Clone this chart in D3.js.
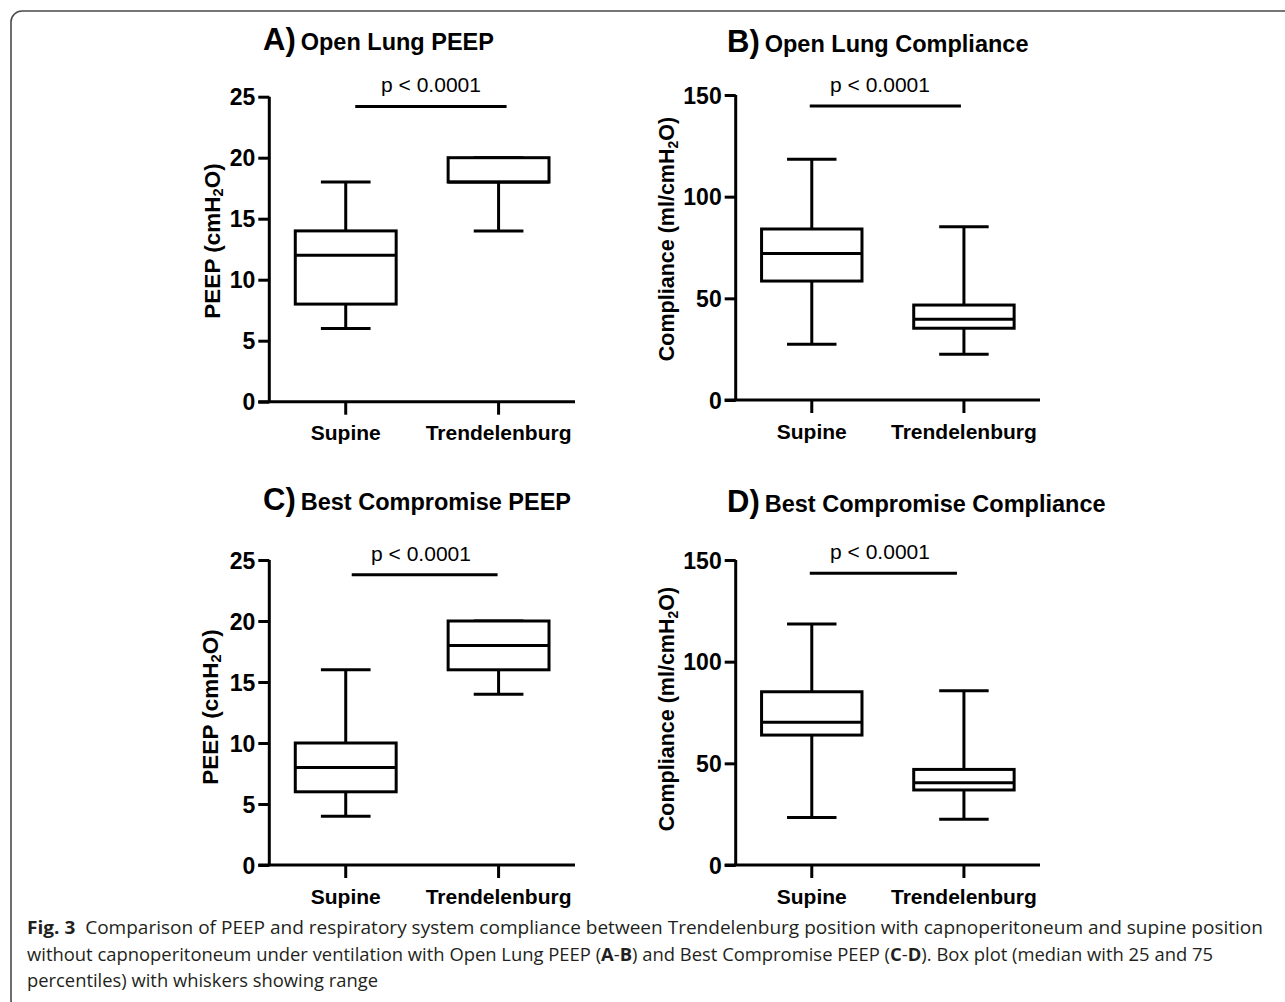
<!DOCTYPE html>
<html>
<head>
<meta charset="utf-8">
<script src="https://cdn.jsdelivr.net/npm/d3@7"></script>
<style>
  html, body { margin: 0; padding: 0; background: #fff; }
  svg { display: block; }
</style>
</head>
<body>
<svg id="chart" width="1285" height="1002"></svg>
<script>
// ---------- DATA ----------
const categories = ["Supine", "Trendelenburg"];

// box stats: [min, q1, median, q3, max] per category
const openLungPEEP        = [[6, 8, 12, 14, 18], [14, 18, 18, 20, 20]];
const openLungCompliance  = [[27.4, 58.5, 72.1, 84.1, 118.4], [22.5, 35.3, 39.7, 46.7, 85.2]];
const bestCompPEEP        = [[4, 6, 8, 10, 16], [14, 16, 18, 20, 20]];
const bestCompCompliance  = [[23.3, 63.9, 70.2, 85.2, 118.5], [22.5, 36.9, 40.5, 47, 85.7]];

const peepTicks = [0, 5, 10, 15, 20, 25];
const complianceTicks = [0, 50, 100, 150];

const panelLetters = ["A)", "B)", "C)", "D)"];
const panelTitles = ["Open Lung PEEP", "Open Lung Compliance", "Best Compromise PEEP", "Best Compromise Compliance"];
const pLabels = ["p < 0.0001", "p < 0.0001", "p < 0.0001", "p < 0.0001"];
const sigLevels = [24.2, 144.6, 23.8, 143.5];

const captionLines = [
  [["Fig. 3", true], ["  Comparison of PEEP and respiratory system compliance between Trendelenburg position with capnoperitoneum and supine position", false]],
  [["without capnoperitoneum under ventilation with Open Lung PEEP (", false], ["A", true], ["-", false], ["B", true], [") and Best Compromise PEEP (", false], ["C", true], ["-", false], ["D", true], ["). Box plot (median with 25 and 75", false]],
  [["percentiles) with whiskers showing range", false]]
];

// ---------- LAYOUT ----------
const panels = [
  { data: openLungPEEP, ticks: peepTicks, max: 25, yLabel: "peep",
    x0: 269.3, x1: 575, yTop: 96.7, yBot: 401.7, titleX: 263, titleY: 50,
    labX: 212, labY: 241, sigDx: [9.5, 8], pX: 431 },
  { data: openLungCompliance, ticks: complianceTicks, max: 150, yLabel: "comp",
    x0: 735.7, x1: 1040, yTop: 95, yBot: 400, titleX: 727, titleY: 51.5,
    labX: 666.5, labY: 239, sigDx: [-2, -3], pX: 880 },
  { data: bestCompPEEP, ticks: peepTicks, max: 25, yLabel: "peep",
    x0: 269.3, x1: 575, yTop: 560, yBot: 865, titleX: 263, titleY: 510,
    labX: 210, labY: 707, sigDx: [6, -1], pX: 421 },
  { data: bestCompCompliance, ticks: complianceTicks, max: 150, yLabel: "comp",
    x0: 735.7, x1: 1040, yTop: 560, yBot: 865, titleX: 727, titleY: 511.5,
    labX: 666.5, labY: 709, sigDx: [-2, -7], pX: 880 }
];

const svg = d3.select("#chart");
const FONT = "'Liberation Sans', Arial, Helvetica, sans-serif";
const SW = 3;

// border
svg.append("rect")
  .attr("x", 11).attr("y", 11).attr("width", 1320).attr("height", 1000)
  .attr("rx", 11).attr("ry", 11)
  .attr("fill", "none").attr("stroke", "#4a4a4a").attr("stroke-width", 1.6);

panels.forEach((p, i) => {
  const g = svg.append("g");
  const y = d3.scaleLinear().domain([0, p.max]).range([p.yBot, p.yTop]);
  const x = d3.scaleBand().domain(categories).range([p.x0, p.x1]).padding(0);
  const bw = x.bandwidth();
  const cx = d => x(d) + bw / 2;
  const boxW = bw * 0.66;
  const capW = bw * 0.325;

  // Y axis
  const yAxis = d3.axisLeft(y).tickValues(p.ticks).tickSize(11).tickPadding(3).tickFormat(d3.format("d"));
  const ya = g.append("g").attr("transform", `translate(${p.x0},0)`).call(yAxis);
  ya.select(".domain").attr("stroke-width", SW).attr("stroke", "#000")
    .attr("d", `M0,${p.yTop}V${p.yBot}`);
  ya.selectAll(".tick line").attr("stroke-width", SW).attr("stroke", "#000");
  ya.selectAll(".tick text").attr("font-family", FONT).attr("font-weight", "bold")
    .attr("font-size", 23).attr("fill", "#000").attr("dy", "0.36em");

  // X axis
  const xAxis = d3.axisBottom(x).tickSize(13).tickPadding(10).tickSizeOuter(0);
  const xa = g.append("g").attr("transform", `translate(0,${p.yBot})`).call(xAxis);
  xa.select(".domain").attr("stroke-width", SW).attr("stroke", "#000")
    .attr("d", `M${p.x0 - 11},0H${p.x1}`);
  xa.selectAll(".tick line").attr("stroke-width", SW).attr("stroke", "#000");
  xa.selectAll(".tick text").attr("font-family", FONT).attr("font-weight", "bold")
    .attr("font-size", 21).attr("fill", "#000").attr("dy", "0.75em");

  // Boxes
  categories.forEach((c, k) => {
    const [mn, q1, md, q3, mx] = p.data[k];
    const xc = cx(c);
    const bg = g.append("g").attr("stroke", "#000").attr("stroke-width", SW).attr("fill", "none");
    bg.append("line").attr("x1", xc).attr("x2", xc).attr("y1", y(mx)).attr("y2", y(q3));
    bg.append("line").attr("x1", xc).attr("x2", xc).attr("y1", y(q1)).attr("y2", y(mn));
    bg.append("line").attr("x1", xc - capW / 2).attr("x2", xc + capW / 2).attr("y1", y(mx)).attr("y2", y(mx));
    bg.append("line").attr("x1", xc - capW / 2).attr("x2", xc + capW / 2).attr("y1", y(mn)).attr("y2", y(mn));
    bg.append("rect").attr("x", xc - boxW / 2).attr("width", boxW)
      .attr("y", y(q3)).attr("height", y(q1) - y(q3)).attr("fill", "#fff");
    bg.append("line").attr("x1", xc - boxW / 2).attr("x2", xc + boxW / 2).attr("y1", y(md)).attr("y2", y(md));
  });

  // significance bar
  const sy = y(sigLevels[i]);
  g.append("line")
    .attr("x1", cx(categories[0]) + p.sigDx[0]).attr("x2", cx(categories[1]) + p.sigDx[1])
    .attr("y1", sy).attr("y2", sy).attr("stroke", "#000").attr("stroke-width", SW);
  g.append("text").attr("x", p.pX).attr("y", sy - 14)
    .attr("text-anchor", "middle").attr("font-family", FONT).attr("font-size", 21)
    .attr("fill", "#000").text(pLabels[i]);

  // title
  const t = g.append("text").attr("x", p.titleX).attr("y", p.titleY)
    .attr("font-family", FONT).attr("font-weight", "bold").attr("fill", "#000");
  t.append("tspan").attr("font-size", 31).text(panelLetters[i]);
  t.append("tspan").attr("font-size", 23.5).attr("dx", 5).text(panelTitles[i]);

  // y label
  const isPeep = p.yLabel === "peep";
  const fs = isPeep ? 22.5 : 21.5;
  const yl = g.append("text")
    .attr("transform", `translate(${p.labX},${p.labY}) rotate(-90)`)
    .attr("text-anchor", "middle").attr("dominant-baseline", "central")
    .attr("font-family", FONT).attr("font-weight", "bold").attr("font-size", fs).attr("fill", "#000");
  yl.append("tspan").text(isPeep ? "PEEP (cmH" : "Compliance (ml/cmH");
  yl.append("tspan").attr("font-size", fs * 0.65).attr("dy", 6).text("2");
  yl.append("tspan").attr("dy", -6).text("O)");
});

// caption
const capY = [934, 961, 987];
const capLen = [1236, 1186, 351];
captionLines.forEach((line, i) => {
  const t = svg.append("text").attr("x", 27).attr("y", capY[i])
    .attr("font-family", "'Open Sans', 'Noto Sans', sans-serif").attr("font-size", 17.5)
    .attr("fill", "#231f20").attr("xml:space", "preserve");
  line.forEach(([s, b]) => {
    t.append("tspan").attr("font-weight", b ? "bold" : "normal").text(s);
  });
  t.attr("textLength", capLen[i]).attr("lengthAdjust", "spacingAndGlyphs");
});
</script>
</body>
</html>
